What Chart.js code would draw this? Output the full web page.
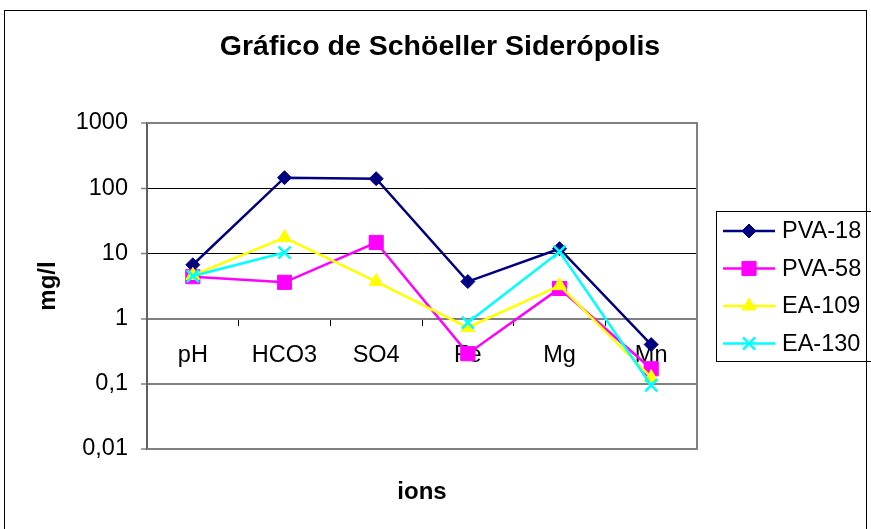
<!DOCTYPE html>
<html>
<head>
<meta charset="utf-8">
<title>Gráfico de Schöeller Siderópolis</title>
<script src="https://cdn.jsdelivr.net/npm/chart.js@4/dist/chart.umd.min.js"></script>
<style>
  html, body { margin: 0; padding: 0; background: #fff; }
  #wrap { position: relative; width: 871px; height: 529px; }
</style>
</head>
<body>
<div id="wrap"><canvas id="chart" width="871" height="529"></canvas></div>
<script>
// ── Data ────────────────────────────────────────────────────────────────
const ions = ['pH', 'HCO3', 'SO4', 'Fe', 'Mg', 'Mn'];

const pva18 = [6.7, 145, 140, 3.7, 11.8, 0.4];
const pva58 = [4.4, 3.6, 14.7, 0.29, 2.9, 0.17];
const ea109 = [4.6, 17.5, 3.7, 0.73, 3.2, 0.125];
const ea130 = [4.5, 10.3, null, 0.87, 10.6, 0.095];

const yTickValues = [0.01, 0.1, 1, 10, 100, 1000];
const yTickLabels = ['0,01', '0,1', '1', '10', '100', '1000'];

const FONT = "'Liberation Sans', Arial, Helvetica, sans-serif";
const GRAY = '#808080';

// ── Extras drawn on the canvas: outer frame, title, plot frame, legend ───
const decorations = {
    id: 'decorations',
    afterDraw: (chart) => {
        const { ctx, chartArea: a } = chart;
        ctx.save();

        // outer border
        ctx.strokeStyle = '#000';
        ctx.lineWidth = 1;
        ctx.strokeRect(4.5, 10.5, 862, 540);

        // plot frame
        ctx.strokeStyle = GRAY;
        ctx.lineWidth = 2;
        ctx.beginPath();
        ctx.moveTo(a.left, a.top);
        ctx.lineTo(a.right, a.top);
        ctx.lineTo(a.right, a.bottom);
        ctx.lineTo(a.left, a.bottom);
        ctx.stroke();

        // title
        ctx.fillStyle = '#000';
        ctx.font = 'bold 28.5px ' + FONT;
        ctx.textAlign = 'center';
        ctx.textBaseline = 'middle';
        ctx.fillText('Gráfico de Schöeller Siderópolis', 440, 47);

        // legend
        const lx = 716.5, ly = 211.5;
        ctx.strokeStyle = '#000';
        ctx.lineWidth = 1;
        ctx.strokeRect(lx, ly, 170, 150);
        ctx.font = '23.5px ' + FONT;
        ctx.textAlign = 'left';
        chart.data.datasets.forEach((ds, i) => {
            const y = 231 + i * 37.5;
            ctx.strokeStyle = ds.borderColor;
            ctx.lineWidth = 2.5;
            ctx.beginPath();
            ctx.moveTo(723, y);
            ctx.lineTo(775, y);
            ctx.stroke();
            ctx.fillStyle = ds.pointBackgroundColor;
            ctx.strokeStyle = ds.pointBorderColor;
            ctx.lineWidth = ds.pointBorderWidth;
            Chart.helpers.drawPoint(ctx, {
                pointStyle: ds.pointStyle,
                radius: ds.pointRadius,
                borderWidth: ds.pointBorderWidth,
                rotation: 0
            }, 749, y);
            ctx.fillStyle = '#000';
            ctx.fillText(ds.label, 782, y + 1);
        });

        ctx.restore();
    }
};

function series(label, data, color, style, radius, order) {
    return {
        label: label,
        data: data,
        borderColor: color,
        backgroundColor: color,
        borderWidth: 2.5,
        pointStyle: style,
        pointRadius: radius,
        pointHoverRadius: radius,
        pointBackgroundColor: color,
        pointBorderColor: color,
        pointBorderWidth: style === 'crossRot' ? 2.5 : 1,
        tension: 0,
        spanGaps: false,
        order: order
    };
}

new Chart(document.getElementById('chart'), {
    type: 'line',
    data: {
        labels: ions,
        datasets: [
            series('PVA-18', pva18, '#000080', 'rectRot', 7, 4),
            series('PVA-58', pva58, '#FF00FF', 'rect', 10, 3),
            series('EA-109', ea109, '#FFFF00', 'triangle', 8, 2),
            series('EA-130', ea130, '#00FFFF', 'crossRot', 8.5, 1)
        ]
    },
    options: {
        responsive: false,
        animation: false,
        layout: { padding: { left: 0, top: 123, right: 174, bottom: 0 } },
        plugins: {
            legend: { display: false },
            title: { display: false },
            tooltip: { enabled: false }
        },
        scales: {
            x: {
                type: 'category',
                position: { y: 1 },
                offset: true,
                z: 1,
                grid: {
                    offset: true,
                    drawOnChartArea: false,
                    drawTicks: true,
                    tickLength: 6,
                    tickColor: '#000',
                    tickWidth: 1
                },
                border: { display: true, color: GRAY, width: 2 },
                ticks: {
                    color: '#000',
                    padding: 17,
                    maxRotation: 0,
                    font: { family: FONT, size: 23.5 }
                }
            },
            x2: {
                type: 'category',
                position: 'bottom',
                offset: true,
                grid: { display: false, drawTicks: false },
                border: { display: false },
                ticks: { display: false },
                title: {
                    display: true,
                    text: 'ions',
                    color: '#000',
                    font: { family: FONT, size: 24, weight: 'bold' },
                    padding: { top: 0, bottom: 22 }
                },
                afterFit: (scale) => { scale.height = 80; }
            },
            y: {
                type: 'logarithmic',
                min: 0.01,
                max: 1000,
                afterBuildTicks: (scale) => {
                    scale.ticks = yTickValues.map(v => ({ value: v }));
                },
                afterFit: (scale) => { scale.width = 147; },
                grid: {
                    color: (c) => (c.tick && (c.tick.value === 10 || c.tick.value === 100)) ? '#000' : GRAY,
                    lineWidth: (c) => (c.tick && (c.tick.value === 10 || c.tick.value === 100)) ? 1 : 2,
                    drawTicks: true,
                    tickLength: 6,
                    tickColor: GRAY,
                    tickWidth: 1.5
                },
                border: { display: true, color: '#606060', width: 2 },
                ticks: {
                    color: '#000',
                    padding: 13,
                    font: { family: FONT, size: 23.5 },
                    callback: (value) => {
                        const i = yTickValues.indexOf(value);
                        return i >= 0 ? yTickLabels[i] : '';
                    }
                },
                title: {
                    display: true,
                    text: 'mg/l',
                    color: '#000',
                    font: { family: FONT, size: 24, weight: 'bold' },
                    padding: { top: 34, bottom: 0 }
                }
            }
        }
    },
    plugins: [decorations]
});
</script>
</body>
</html>
